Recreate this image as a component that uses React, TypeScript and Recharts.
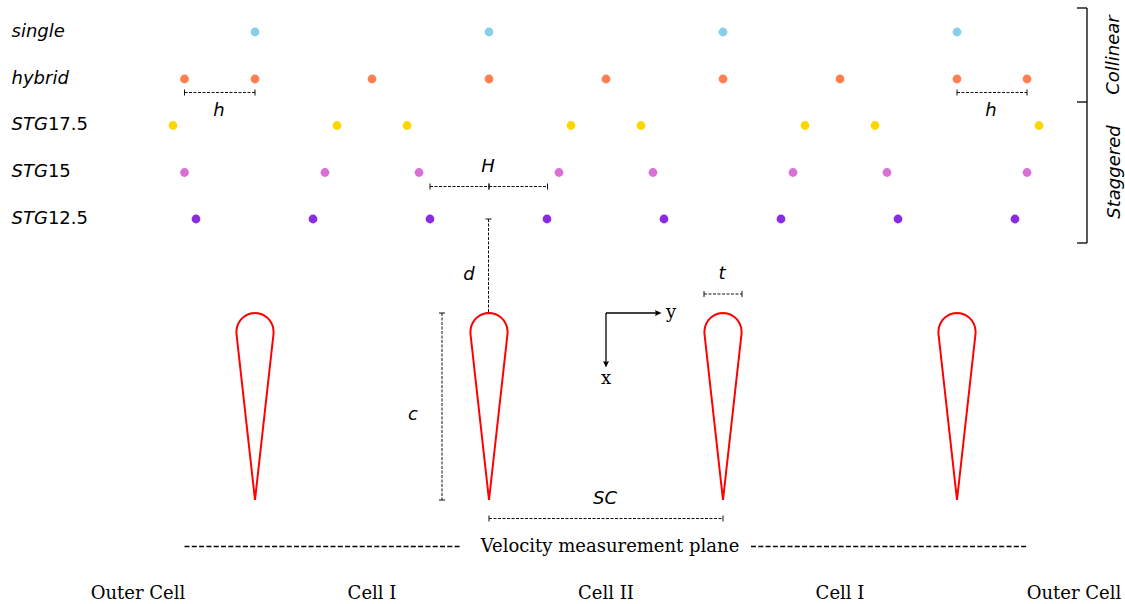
import { ReferenceLine, Scatter, ScatterChart, XAxis, YAxis } from "recharts";

// everything is in the picture's own units, so scales are 1:1 with the frame
const W = 1125;
const H = 604;

const rowY = [32, 79, 125.5, 172.5, 219];
const singleX = [255, 489, 723, 957];
const hybridX = [184.5, 255, 372, 489, 606, 723, 840, 957, 1027];
const stg175X = [173, 337, 407, 571, 641, 805, 875, 1039];
const stg15X = [184.5, 325, 419, 559, 653, 793, 887, 1027];
const stg125X = [196, 313, 430, 547, 664, 781, 898, 1015];
const rowColors = ["#87ceeb", "#ff7f50", "#ffd700", "#da70d6", "#8a2be2"];
const rows = [singleX, hybridX, stg175X, stg15X, stg125X];

const bladeX = [255, 489, 723, 957];
// outline offsets from the nose of a blade: round leading edge, straight taper
const outlineDx = [0, 3, 6, 9, 12, 14.5, 16.5, 18, 18.6, 18.5, 0, -18.5, -18.6, -18, -16.5, -14.5, -12, -9, -6, -3, 0];
const outlineDy = [313, 313.3, 314, 315.4, 317.4, 320, 323.2, 327, 331.5, 334, 500, 334, 331.5, 327, 323.2, 320, 317.4, 315.4, 314, 313.3, 313];

const rowLabels = [
  { x: 11.5, y: 30, head: "single", tail: "" },
  { x: 11.5, y: 77, head: "hybrid", tail: "" },
  { x: 11.5, y: 123, head: "STG", tail: "17.5" },
  { x: 11.5, y: 170, head: "STG", tail: "15" },
  { x: 11.5, y: 217, head: "STG", tail: "12.5" },
];
const mathLabels = [
  { x: 219, y: 109, t: "h" },
  { x: 991, y: 109, t: "h" },
  { x: 488, y: 165, t: "H" },
  { x: 469, y: 273, t: "d" },
  { x: 413, y: 413, t: "c" },
  { x: 722, y: 272, t: "t" },
  { x: 605, y: 497, t: "SC" },
];
const groupLabels = [
  { x: 1112, y: 55, t: "Collinear" },
  { x: 1113, y: 172, t: "Staggered" },
];
const serifLabels = [
  { x: 610, y: 545, t: "Velocity measurement plane" },
  { x: 138, y: 592, t: "Outer Cell" },
  { x: 372, y: 592, t: "Cell I" },
  { x: 606, y: 592, t: "Cell II" },
  { x: 840, y: 592, t: "Cell I" },
  { x: 1074, y: 592, t: "Outer Cell" },
  { x: 671, y: 311, t: "y" },
  { x: 606, y: 377, t: "x" },
];

// dimension lines: [x1, y, x2] and [x, y1, y2]
const dimH = [
  [184.5, 92.5, 255],
  [957, 92.5, 1027],
  [430, 186.5, 489],
  [489, 186.5, 547.5],
  [704, 294, 742],
  [489, 518.5, 723],
];
const dimV = [
  [488.5, 219, 313],
  [442, 313, 500],
];
const planeLines = [
  [184.5, 460],
  [751, 1027],
];
const bracketX = 1087;
const bracketY = [8, 102, 243];
const arrowLines = [
  { a: [606, 313], b: [657, 313] },
  { a: [606, 313], b: [606, 363] },
];
const arrowHeads = [
  { x: 657, y: 313, dir: "r" },
  { x: 606, y: 363, dir: "d" },
];

const sans = "'DejaVu Sans'";
const serif = "'DejaVu Serif'";
const nothing = () => <g />;

const rowLabelShape = (p: any) => (
  <text x={p.cx} y={p.cy} dominantBaseline="central" fontFamily={sans} fontSize={18} fill="#000">
    <tspan fontStyle="italic">{p.payload.head}</tspan>
    <tspan>{p.payload.tail}</tspan>
  </text>
);
const mathShape = (p: any) => (
  <text x={p.cx} y={p.cy} textAnchor="middle" dominantBaseline="central" fontFamily={sans} fontStyle="italic" fontSize={18} fill="#000">
    {p.payload.t}
  </text>
);
const groupShape = (p: any) => (
  <text
    x={p.cx}
    y={p.cy}
    textAnchor="middle"
    dominantBaseline="central"
    transform={`rotate(-90 ${p.cx} ${p.cy})`}
    fontFamily={sans}
    fontStyle="italic"
    fontSize={18}
    fill="#000"
  >
    {p.payload.t}
  </text>
);
const serifShape = (p: any) => (
  <text x={p.cx} y={p.cy} textAnchor="middle" dominantBaseline="central" fontFamily={serif} fontSize={18} fill="#000">
    {p.payload.t}
  </text>
);
const headShape = (p: any) => (
  <path
    transform={`translate(${p.cx} ${p.cy}) rotate(${p.payload.dir === "r" ? 0 : 90})`}
    d="M4.5,0 L-2,-3 L-1,0 L-2,3 Z"
    fill="#000"
  />
);

const seg = (key: string, x1: number, y1: number, x2: number, y2: number, color: string, w: number, dash?: string) => (
  <ReferenceLine
    key={key}
    segment={[
      { x: x1, y: y1 },
      { x: x2, y: y2 },
    ]}
    stroke={color}
    strokeWidth={w}
    strokeDasharray={dash}
    ifOverflow="visible"
  />
);

export default function App() {
  return (
    <div style={{ position: "fixed", left: 0, top: 0, width: W, height: H, background: "#fff" }}>
      <ScatterChart width={W} height={H} margin={{ top: 0, right: 0, bottom: 0, left: 0 }}>
        <XAxis type="number" dataKey="x" domain={[0, W]} hide />
        <YAxis type="number" dataKey="y" domain={[0, H]} reversed hide />

        {dimH.flatMap(([x1, y, x2], i) => [
          seg(`dh${i}`, x1, y, x2, y, "#111", 1, "3 1.5"),
          seg(`dha${i}`, x1, y - 3, x1, y + 3, "#111", 1),
          seg(`dhb${i}`, x2, y - 3, x2, y + 3, "#111", 1),
        ])}
        {dimV.flatMap(([x, y1, y2], i) => [
          seg(`dv${i}`, x, y1, x, y2, "#111", 1, "3 1.5"),
          seg(`dva${i}`, x - 3, y1, x + 3, y1, "#111", 1),
          seg(`dvb${i}`, x - 3, y2, x + 3, y2, "#111", 1),
        ])}
        {planeLines.map(([x1, x2], i) => seg(`pl${i}`, x1, 546.5, x2, 546.5, "#000", 1.3, "5 2.3"))}
        {seg("br", bracketX, bracketY[0], bracketX, bracketY[2], "#000", 1.3)}
        {bracketY.map((y, i) => seg(`brt${i}`, bracketX - 10, y, bracketX, y, "#000", 1.3))}
        {arrowLines.map((l, i) => seg(`ar${i}`, l.a[0], l.a[1], l.b[0], l.b[1], "#000", 1.3))}

        {bladeX.map((x, i) => (
          <Scatter
            key={`blade${i}`}
            data={outlineDx.map((dx, j) => ({ x: x + dx, y: outlineDy[j] }))}
            line={{ stroke: "#ff0000", strokeWidth: 2 }}
            shape={nothing}
            isAnimationActive={false}
          />
        ))}

        {rows.map((xs, i) => (
          <Scatter
            key={`row${i}`}
            data={xs.map((x) => ({ x, y: rowY[i] }))}
            fill={rowColors[i]}
            shape={(p: any) => <circle cx={p.cx} cy={p.cy} r={4.4} fill={rowColors[i]} />}
            isAnimationActive={false}
          />
        ))}

        <Scatter data={arrowHeads} shape={headShape} isAnimationActive={false} />
        <Scatter data={rowLabels} shape={rowLabelShape} isAnimationActive={false} />
        <Scatter data={mathLabels} shape={mathShape} isAnimationActive={false} />
        <Scatter data={groupLabels} shape={groupShape} isAnimationActive={false} />
        <Scatter data={serifLabels} shape={serifShape} isAnimationActive={false} />
      </ScatterChart>
    </div>
  );
}
